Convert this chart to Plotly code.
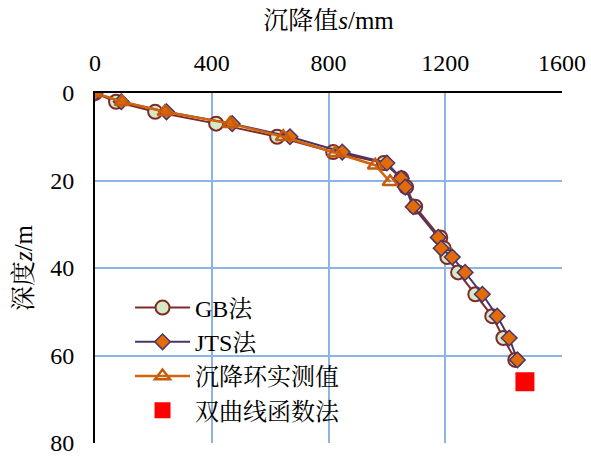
import plotly.graph_objects as go

# Depths (m) at which the two calculation methods were evaluated
depth_calc = [0, 2, 4.3, 7, 10, 13.5, 16, 19.5, 21.5, 26, 33, 35.5, 37.5, 41, 46, 51, 56, 61]
# Settlement (mm) by the GB method
settle_gb = [0, 72, 206, 415, 624, 816, 990, 1050, 1066, 1097, 1183, 1195, 1207, 1244, 1303, 1361, 1399, 1440]
# Settlement (mm) by the JTS method
settle_jts = [0, 90, 245, 470, 668, 847, 1000, 1049, 1063, 1090, 1176, 1186, 1224, 1268, 1327, 1378, 1419, 1447]

# Settlement-ring field measurements
depth_meas = [0, 2, 4.3, 7, 10, 13.7, 16.5, 20.3]
settle_meas = [0, 93, 240, 463, 645, 823, 960, 1011]

# Hyperbolic-function prediction
depth_hyp = [66]
settle_hyp = [1473]

FONT = "Liberation Serif, Times New Roman, Noto Serif CJK SC, Noto Sans CJK SC, serif"

fig = go.Figure()

fig.add_trace(go.Scatter(
    x=settle_gb, y=depth_calc, name="GB法", mode="lines+markers",
    line=dict(color="#7F2A2A", width=2),
    marker=dict(symbol="circle", size=14, color="#D6E9C6",
                line=dict(color="#7F2A2A", width=2)),
))
fig.add_trace(go.Scatter(
    x=settle_jts, y=depth_calc, name="JTS法", mode="lines+markers",
    line=dict(color="#4B3566", width=2),
    marker=dict(symbol="diamond", size=12, color="#E36C09",
                line=dict(color="#4B3566", width=1.5)),
))
fig.add_trace(go.Scatter(
    x=settle_meas, y=depth_meas, name="沉降环实测值", mode="lines+markers",
    line=dict(color="#D0650C", width=2.5),
    marker=dict(symbol="triangle-up-open", size=13, color="#C55A11",
                line=dict(color="#C55A11", width=2.5)),
))
fig.add_trace(go.Scatter(
    x=settle_hyp, y=depth_hyp, name="双曲线函数法", mode="markers",
    marker=dict(symbol="square", size=19, color="#FF0000"),
))

fig.update_layout(
    width=591, height=457,
    margin=dict(l=95, r=29, t=93, b=14, autoexpand=False),
    paper_bgcolor="white", plot_bgcolor="white",
    font=dict(family=FONT, size=24, color="black"),
    showlegend=True,
    legend=dict(x=0.075, y=0.45, xanchor="left", yanchor="top",
                bgcolor="rgba(0,0,0,0)", font=dict(size=24, family=FONT),
                itemwidth=55, tracegroupgap=0),
)

fig.update_xaxes(
    side="top", range=[0, 1600], tick0=0, dtick=400, automargin=False,
    showgrid=True, gridcolor="#8DB4E2", gridwidth=2,
    showline=True, linecolor="black", linewidth=2, mirror=False,
    zeroline=False, ticks="", ticklabelstandoff=10,
    tickfont=dict(size=24),
    title=dict(text="沉降值<i>s</i>/mm", standoff=14, font=dict(size=25)),
)
fig.update_yaxes(
    range=[80, 0], tick0=0, dtick=20, automargin=False,
    showgrid=True, gridcolor="#8DB4E2", gridwidth=2,
    showline=True, linecolor="black", linewidth=2,
    zeroline=False, ticks="", ticklabelstandoff=14,
    tickfont=dict(size=24),
    title=dict(text="深度<i>z</i>/m", standoff=10, font=dict(size=25)),
)

fig.write_html("out.html")
